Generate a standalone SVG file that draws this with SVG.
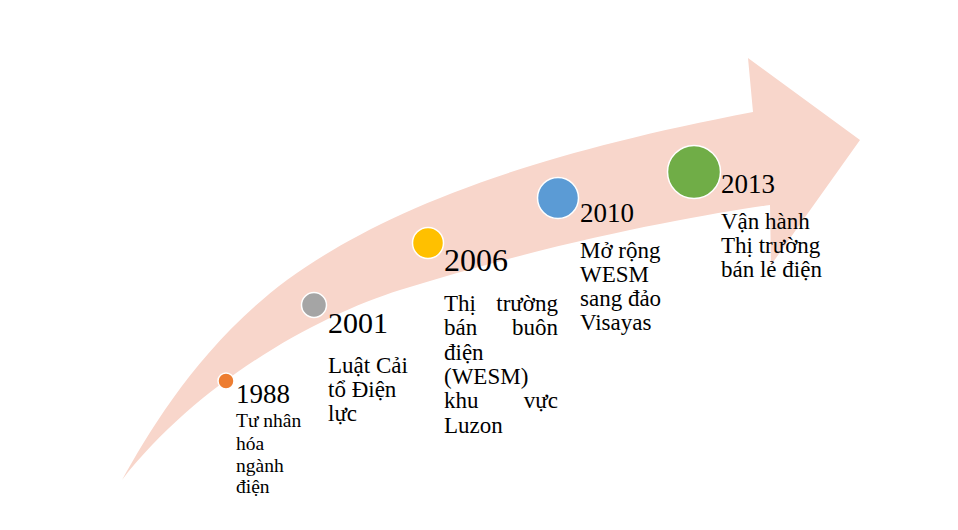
<svg xmlns="http://www.w3.org/2000/svg" width="958" height="530" viewBox="0 0 958 530">
<style>
text{font-family:"Liberation Serif","Times New Roman",serif;fill:#000}
.yr{font-size:27px}
.d{font-size:23px}
.dot{stroke:#fff;stroke-width:1.5}
</style>
<rect width="958" height="530" fill="#fff"/>
<g id="arrow">
<path d="M122,480 C150,430 200,345 287,280 C370,220 500,160 753,112 L748,58 L860,140 L771,265 L770,205 C700,215 560,240 400,290 C320,315 200,380 122,480 Z" fill="#F8D6CB"/>
</g>
<g id="n1988">
<circle class="dot" cx="226" cy="381" r="8" fill="#ED7D31"/>
<text class="yr" x="236" y="403">1988</text>
<text style="font-size:19.5px" x="236" y="427">Tư nhân</text>
<text style="font-size:19.5px" x="236" y="450">hóa</text>
<text style="font-size:19.5px" x="236" y="472">ngành</text>
<text style="font-size:19.5px" x="236" y="493">điện</text>
</g>
<g id="n2001">
<circle class="dot" cx="314" cy="305" r="12.5" fill="#A5A5A5"/>
<text class="yr" style="font-size:30px" x="328" y="333">2001</text>
<text class="d" x="328" y="373">Luật Cải</text>
<text class="d" x="328" y="397">tổ Điện</text>
<text class="d" x="328" y="421">lực</text>
</g>
<g id="n2006">
<circle class="dot" cx="428" cy="243" r="15.5" fill="#FFC000"/>
<text class="yr" style="font-size:32px" x="444" y="271">2006</text>
<text class="d" x="444" y="311">Thị</text><text class="d" x="558" y="311" text-anchor="end">trường</text>
<text class="d" x="444" y="335">bán</text><text class="d" x="558" y="335" text-anchor="end">buôn</text>
<text class="d" x="444" y="360">điện</text>
<text class="d" x="444" y="384">(WESM)</text>
<text class="d" x="444" y="408">khu</text><text class="d" x="558" y="408" text-anchor="end">vực</text>
<text class="d" x="444" y="433">Luzon</text>
</g>
<g id="n2010">
<circle class="dot" cx="558" cy="198" r="20.5" fill="#5B9BD5"/>
<text class="yr" x="580" y="222">2010</text>
<text class="d" x="580" y="258">Mở rộng</text>
<text class="d" x="580" y="282">WESM</text>
<text class="d" x="580" y="306">sang đảo</text>
<text class="d" x="580" y="330">Visayas</text>
</g>
<g id="n2013">
<circle class="dot" cx="694" cy="172" r="26.5" fill="#70AD47"/>
<text class="yr" x="721" y="193">2013</text>
<text class="d" x="721" y="229">Vận hành</text>
<text class="d" x="721" y="253">Thị trường</text>
<text class="d" x="721" y="277">bán lẻ điện</text>
</g>
</svg>
